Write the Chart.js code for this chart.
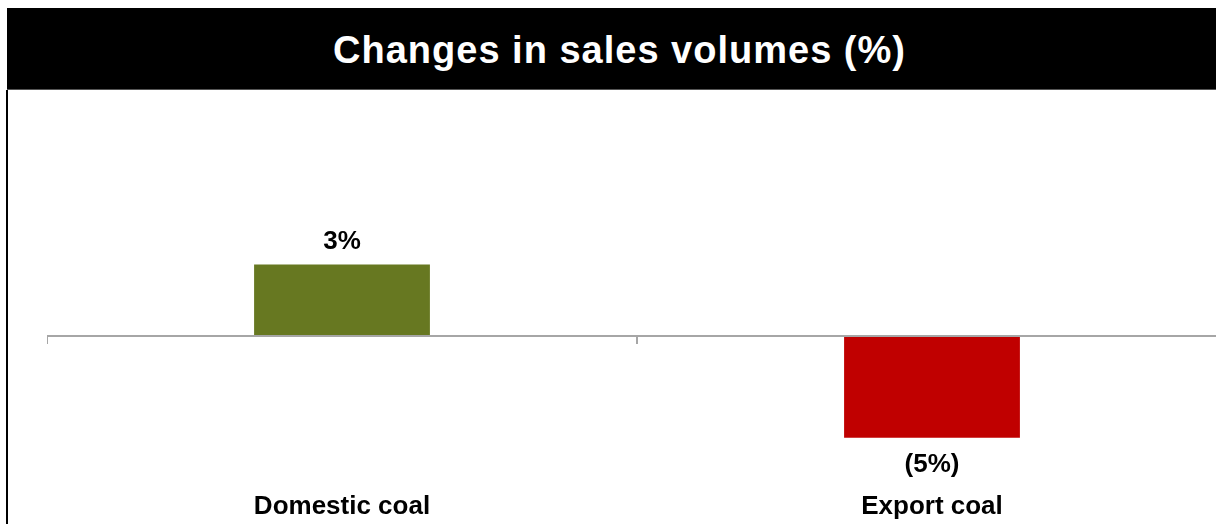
<!DOCTYPE html>
<html>
<head>
<meta charset="utf-8">
<script src="https://cdn.jsdelivr.net/npm/chart.js@4"></script>
<style>
  html, body { margin: 0; padding: 0; width: 1216px; height: 524px; overflow: hidden; background: #fff; }
  #title {
    position: absolute; left: 7px; top: 8px; width: 1225px; height: 82px;
    background: #000; color: #fff; border-bottom: 1px solid #555; box-sizing: border-box;
    font: bold 38px "Liberation Sans", Arial, sans-serif; letter-spacing: 1px;
    display: flex; align-items: center; justify-content: center; padding-top: 4px;
  }
  #leftBorder { position: absolute; left: 6px; top: 90px; width: 2px; height: 434px; background: #000; }
  #chart { position: absolute; left: 47px; top: 90px; }
</style>
</head>
<body>
<div id="title">Changes in sales volumes (%)</div>
<div id="leftBorder"></div>
<canvas id="chart" width="1180" height="434"></canvas>
<script>
// valores
let categorias = ['Domestic coal', 'Export coal'];
let variacao = [3.4, -4.85];
let cores = ['#677821', '#c00000'];

const fonte = '"Liberation Sans", Arial, sans-serif';

function formatPct(v){
	let n = Math.round(Math.abs(v));
	return v < 0 ? '(' + n + '%)' : n + '%';
}

// linha do zero e marcas entre categorias
const eixoZero = {
	id: 'eixoZero',
	afterDatasetsDraw(chart){
		const ctx = chart.ctx;
		const x = chart.scales.x, y = chart.scales.y;
		const y0 = Math.round(y.getPixelForValue(0));
		ctx.save();
		ctx.fillStyle = '#a6a6a6';
		ctx.fillRect(chart.chartArea.left - 1, y0 - 1, chart.chartArea.right - chart.chartArea.left, 2);
		for(let i = 0; i <= categorias.length; i++){
			let px = Math.round(x.getPixelForValue(i - 0.5));
			ctx.fillRect(px - 1, y0 - 1, 2, 9);
		}
		ctx.restore();
	}
};

const rotulos = {
	id: 'rotulos',
	afterDatasetsDraw(chart){
		const ctx = chart.ctx;
		const meta = chart.getDatasetMeta(0);
		ctx.save();
		ctx.font = 'bold 26px ' + fonte;
		ctx.fillStyle = '#000';
		ctx.textAlign = 'center';
		ctx.textBaseline = 'middle';
		meta.data.forEach((bar, i) => {
			let v = variacao[i];
			let ty = v >= 0 ? bar.y - 23 : bar.y + 27;
			ctx.fillText(formatPct(v), bar.x, ty);
		});
		ctx.restore();
	}
};

let myChart = new Chart(document.getElementById('chart'), {
	type: 'bar',
	data: {
		labels: categorias,
		datasets: [{
			data: variacao,
			backgroundColor: cores,
			borderWidth: 0,
			categoryPercentage: 1,
			barPercentage: 0.298
		}]
	},
	options: {
		responsive: false,
		animation: false,
		layout: { padding: { top: 36, bottom: 0, left: 0, right: 0 } },
		plugins: { legend: { display: false }, tooltip: { enabled: false }, title: { display: false } },
		scales: {
			x: {
				grid: { display: false, drawTicks: false, tickLength: 0 },
				border: { display: false },
				ticks: { color: '#000', padding: 8, font: { family: fonte, size: 26, weight: 'bold' } },
				afterFit(scale){ scale.height = 41; }
			},
			y: {
				display: false,
				min: -7,
				max: 10
			}
		}
	},
	plugins: [eixoZero, rotulos]
});
</script>
</body>
</html>
